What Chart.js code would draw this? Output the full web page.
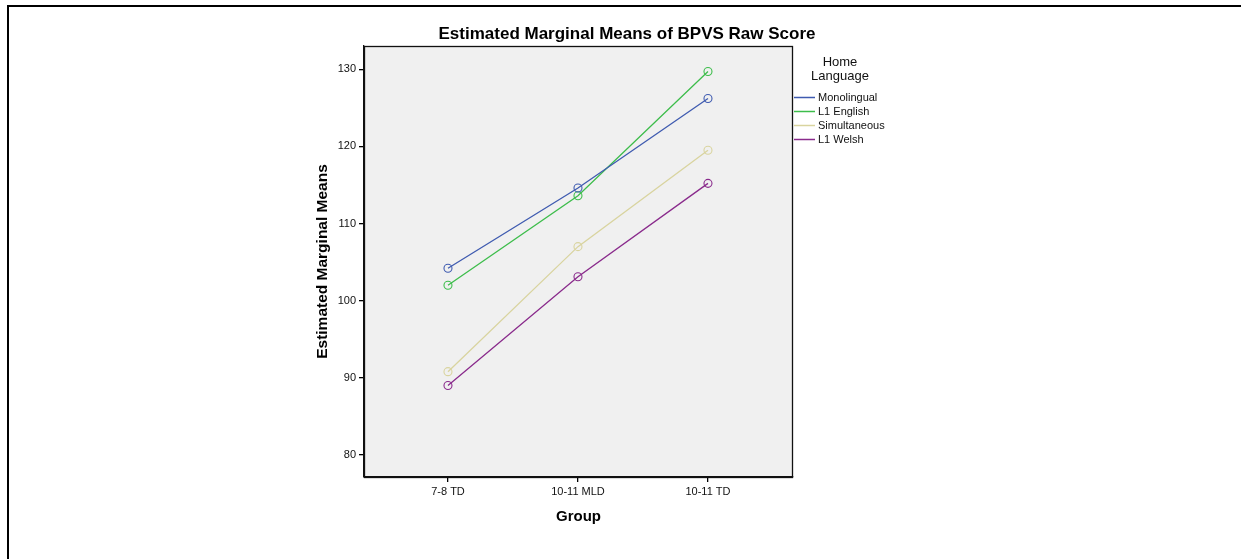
<!DOCTYPE html>
<html>
<head>
<meta charset="utf-8">
<script src="https://cdn.jsdelivr.net/npm/chart.js@4"></script>
<style>
  body { margin: 0; background: #fff; }
  #wrap { position: relative; width: 1241px; height: 559px; }
  #frame { position: absolute; left: 7px; top: 5px; right: 0; bottom: 0;
           border-top: 2px solid #000; border-left: 2px solid #000; pointer-events: none; }
</style>
</head>
<body>
<div id="wrap">
  <canvas id="emm" width="1241" height="559"></canvas>
  <div id="frame"></div>
</div>
<script>
const groups = ['7-8 TD', '10-11 MLD', '10-11 TD'];
const yTicks = [80, 90, 100, 110, 120, 130];

const monolingual  = [104.2, 114.6, 126.2];
const l1English    = [102.0, 113.6, 129.7];
const simultaneous = [90.8, 107.0, 119.5];
const l1Welsh      = [89.0, 103.1, 115.2];

const toPoints = arr => arr.map((v, i) => ({ x: i, y: v }));

function series(label, values, color) {
    return {
        label: label,
        data: toPoints(values),
        borderColor: color,
        backgroundColor: 'rgba(0,0,0,0)',
        borderWidth: 1.3,
        pointRadius: 4,
        pointBorderWidth: 1.1,
        pointHoverRadius: 4,
        tension: 0
    };
}

// grey plot box + border, title and legend in SPSS style
const spssDecor = {
    id: 'spssDecor',
    beforeDraw(chart) {
        const { ctx, chartArea: a } = chart;
        ctx.save();
        ctx.fillStyle = '#f0f0f0';
        ctx.fillRect(a.left, a.top, a.right - a.left, a.bottom - a.top);
        ctx.restore();
    },
    afterDraw(chart) {
        const { ctx, chartArea: a } = chart;
        ctx.save();
        ctx.strokeStyle = '#111';
        ctx.lineWidth = 1.3;
        ctx.strokeRect(a.left + 0.5, a.top + 0.5, a.right - a.left - 1, a.bottom - a.top);

        ctx.fillStyle = '#000';
        ctx.font = 'bold 17px "Liberation Sans", Arial, sans-serif';
        ctx.textAlign = 'center';
        ctx.textBaseline = 'middle';
        ctx.fillText('Estimated Marginal Means of BPVS Raw Score', 627, 34);

        ctx.font = '13px "Liberation Sans", Arial, sans-serif';
        ctx.fillStyle = '#111';
        ctx.fillText('Home', 840, 62);
        ctx.fillText('Language', 840, 76);

        ctx.font = '11px "Liberation Sans", Arial, sans-serif';
        ctx.textAlign = 'left';
        chart.data.datasets.forEach((ds, i) => {
            const y = 97 + i * 14;
            ctx.strokeStyle = ds.borderColor;
            ctx.lineWidth = 1.5;
            ctx.beginPath();
            ctx.moveTo(794, y + 0.5);
            ctx.lineTo(815, y + 0.5);
            ctx.stroke();
            ctx.fillStyle = '#111';
            ctx.fillText(ds.label, 818, y + 1);
        });
        ctx.restore();
    }
};

new Chart(document.getElementById('emm').getContext('2d'), {
    type: 'line',
    data: {
        datasets: [
            series('Monolingual', monolingual, '#3f5bb0'),
            series('L1 English', l1English, '#3dbd4b'),
            series('Simultaneous', simultaneous, '#d9d49f'),
            series('L1 Welsh', l1Welsh, '#8a2b8c')
        ]
    },
    options: {
        responsive: false,
        animation: false,
        layout: { padding: { left: 300, top: 46, right: 448, bottom: 30 } },
        plugins: { legend: { display: false }, title: { display: false }, tooltip: { enabled: false } },
        scales: {
            x: {
                type: 'linear',
                min: -0.646,
                max: 2.654,
                afterBuildTicks: s => { s.ticks = groups.map((g, i) => ({ value: i })); },
                afterFit: s => { s.height = 52; },
                grid: { drawOnChartArea: false, tickLength: 5, color: '#000', lineWidth: 1.3 },
                border: { color: '#111', width: 1.3 },
                ticks: {
                    padding: 3,
                    color: '#111',
                    font: { family: '"Liberation Sans", Arial, sans-serif', size: 11 },
                    callback: v => groups[v]
                },
                title: {
                    display: true,
                    text: 'Group',
                    color: '#000',
                    padding: { top: 0, bottom: 3 },
                    font: { family: '"Liberation Sans", Arial, sans-serif', size: 15, weight: 'bold' }
                }
            },
            y: {
                min: 77.15,
                max: 133.0,
                afterBuildTicks: s => { s.ticks = yTicks.map(v => ({ value: v })); },
                afterFit: s => { s.width = 64; },
                grid: { drawOnChartArea: false, tickLength: 5, color: '#000', lineWidth: 1.3 },
                border: { color: '#111', width: 1.3 },
                ticks: {
                    padding: 3,
                    color: '#111',
                    font: { family: '"Liberation Sans", Arial, sans-serif', size: 11 }
                },
                title: {
                    display: true,
                    text: 'Estimated Marginal Means',
                    color: '#000',
                    padding: { top: 13, bottom: 0 },
                    font: { family: '"Liberation Sans", Arial, sans-serif', size: 15.5, weight: 'bold' }
                }
            }
        }
    },
    plugins: [spssDecor]
});
</script>
</body>
</html>
